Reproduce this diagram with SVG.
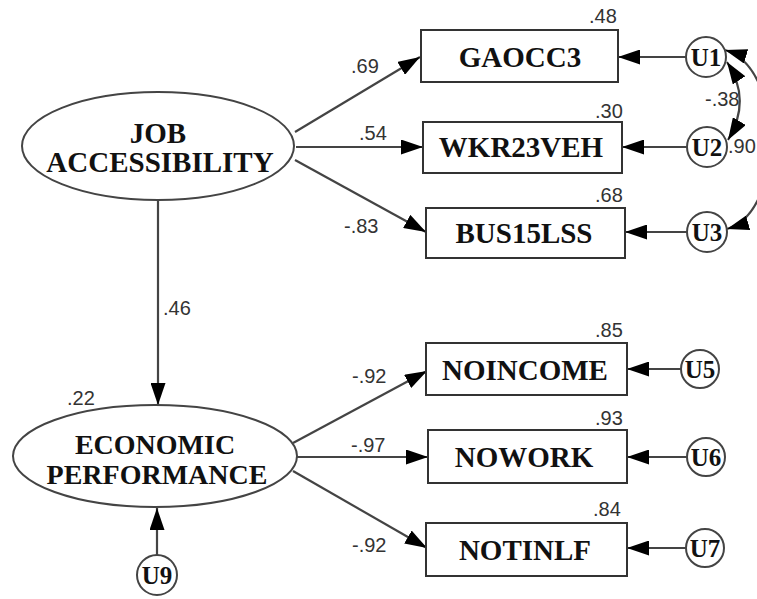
<svg xmlns="http://www.w3.org/2000/svg" width="757" height="599" viewBox="0 0 757 599">
<style>
.bg{fill:#fff}
.box{fill:#fff;stroke:#333;stroke-width:2}
.ell{fill:#fff;stroke:#444;stroke-width:2}
.cir{fill:#fff;stroke:#444;stroke-width:2}
.lbl{font-family:"Liberation Serif","Times New Roman",serif;font-weight:bold;font-size:29px;fill:#111;text-anchor:middle}
.elbl{font-family:"Liberation Serif","Times New Roman",serif;font-weight:bold;font-size:28px;fill:#111;text-anchor:middle}
.ulbl{font-family:"Liberation Serif","Times New Roman",serif;font-weight:bold;font-size:25px;fill:#111;text-anchor:middle}
.num{font-family:"Liberation Sans",Arial,sans-serif;font-size:20px;fill:#333}
.ln{stroke:#444;stroke-width:2.2;fill:none}
</style>
<defs>
<marker id="ah" viewBox="0 0 22 15" refX="22" refY="7.5" markerWidth="22" markerHeight="15" markerUnits="userSpaceOnUse" orient="auto-start-reverse">
<path d="M0,0 L22,7.5 L0,15 z" fill="#000"/>
</marker>
</defs>
<rect class="bg" x="0" y="0" width="757" height="599"/>
<g id="connectors">
<line class="ln" x1="295" y1="132" x2="420" y2="57" marker-end="url(#ah)"/>
<line class="ln" x1="296" y1="147" x2="423" y2="147" marker-end="url(#ah)"/>
<line class="ln" x1="295" y1="160" x2="426" y2="232" marker-end="url(#ah)"/>
<line class="ln" x1="293" y1="443" x2="427" y2="371" marker-end="url(#ah)"/>
<line class="ln" x1="296" y1="457" x2="428" y2="457" marker-end="url(#ah)"/>
<line class="ln" x1="293" y1="471" x2="427" y2="548" marker-end="url(#ah)"/>
<line class="ln" x1="158" y1="200" x2="158" y2="405" marker-end="url(#ah)"/>
<line class="ln" x1="157" y1="555" x2="157" y2="508" marker-end="url(#ah)"/>
<line class="ln" x1="686" y1="57" x2="618" y2="57" marker-end="url(#ah)"/>
<line class="ln" x1="687" y1="147" x2="622" y2="147" marker-end="url(#ah)"/>
<line class="ln" x1="687" y1="232" x2="625" y2="232" marker-end="url(#ah)"/>
<line class="ln" x1="681" y1="369" x2="627" y2="369" marker-end="url(#ah)"/>
<line class="ln" x1="687" y1="457" x2="627" y2="457" marker-end="url(#ah)"/>
<line class="ln" x1="686" y1="548" x2="627" y2="548" marker-end="url(#ah)"/>
<path class="ln" d="M727,62 Q752,100 728,140" marker-start="url(#ah)" marker-end="url(#ah)"/>
<path class="ln" d="M725,50 C785,68 785,212 727,229" marker-start="url(#ah)" marker-end="url(#ah)"/>
</g>
<g id="job">
<ellipse class="ell" cx="158" cy="146" rx="136" ry="54"/>
<text class="lbl" x="158" y="143">JOB</text>
<text class="lbl" x="160" y="172">ACCESSIBILITY</text>
</g>
<g id="econ">
<ellipse class="ell" cx="155" cy="456" rx="142" ry="51"/>
<text class="elbl" x="155" y="454">ECONOMIC</text>
<text class="elbl" x="157" y="484">PERFORMANCE</text>
</g>
<g id="gaocc3">
<rect class="box" x="421" y="30" width="197" height="52"/>
<text class="lbl" x="520" y="67">GAOCC3</text>
</g>
<g id="wkr23veh">
<rect class="box" x="423" y="122" width="199" height="51"/>
<text class="lbl" x="521" y="157">WKR23VEH</text>
</g>
<g id="bus15lss">
<rect class="box" x="426" y="208" width="199" height="50"/>
<text class="lbl" x="524" y="243">BUS15LSS</text>
</g>
<g id="noincome">
<rect class="box" x="426" y="343" width="201" height="52"/>
<text class="lbl" x="525" y="380">NOINCOME</text>
</g>
<g id="nowork">
<rect class="box" x="428" y="430" width="199" height="53"/>
<text class="lbl" x="524" y="467">NOWORK</text>
</g>
<g id="notinlf">
<rect class="box" x="426" y="523" width="201" height="53"/>
<text class="lbl" x="525" y="560">NOTINLF</text>
</g>
<g id="u1"><circle class="cir" cx="706" cy="57" r="20"/><text class="ulbl" x="706" y="66">U1</text></g>
<g id="u2"><circle class="cir" cx="707" cy="147" r="20"/><text class="ulbl" x="707" y="156">U2</text></g>
<g id="u3"><circle class="cir" cx="707" cy="232" r="20"/><text class="ulbl" x="707" y="241">U3</text></g>
<g id="u5"><circle class="cir" cx="700" cy="369" r="19"/><text class="ulbl" x="700" y="378">U5</text></g>
<g id="u6"><circle class="cir" cx="706" cy="457" r="19"/><text class="ulbl" x="706" y="466">U6</text></g>
<g id="u7"><circle class="cir" cx="705" cy="548" r="19"/><text class="ulbl" x="705" y="557">U7</text></g>
<g id="u9"><circle class="cir" cx="157" cy="575" r="20"/><text class="ulbl" x="157" y="584">U9</text></g>
<g id="labels">
<text class="num" x="351" y="73">.69</text>
<text class="num" x="359" y="140">.54</text>
<text class="num" x="344" y="233">-.83</text>
<text class="num" x="352" y="383">-.92</text>
<text class="num" x="351" y="452">-.97</text>
<text class="num" x="352" y="552">-.92</text>
<text class="num" x="163" y="315">.46</text>
<text class="num" x="67" y="405">.22</text>
<text class="num" x="589" y="23">.48</text>
<text class="num" x="595" y="118">.30</text>
<text class="num" x="595" y="202">.68</text>
<text class="num" x="595" y="337">.85</text>
<text class="num" x="595" y="425">.93</text>
<text class="num" x="593" y="516">.84</text>
<text class="num" x="705" y="106">-.38</text>
<text class="num" x="728" y="153">.90</text>
</g>
</svg>
